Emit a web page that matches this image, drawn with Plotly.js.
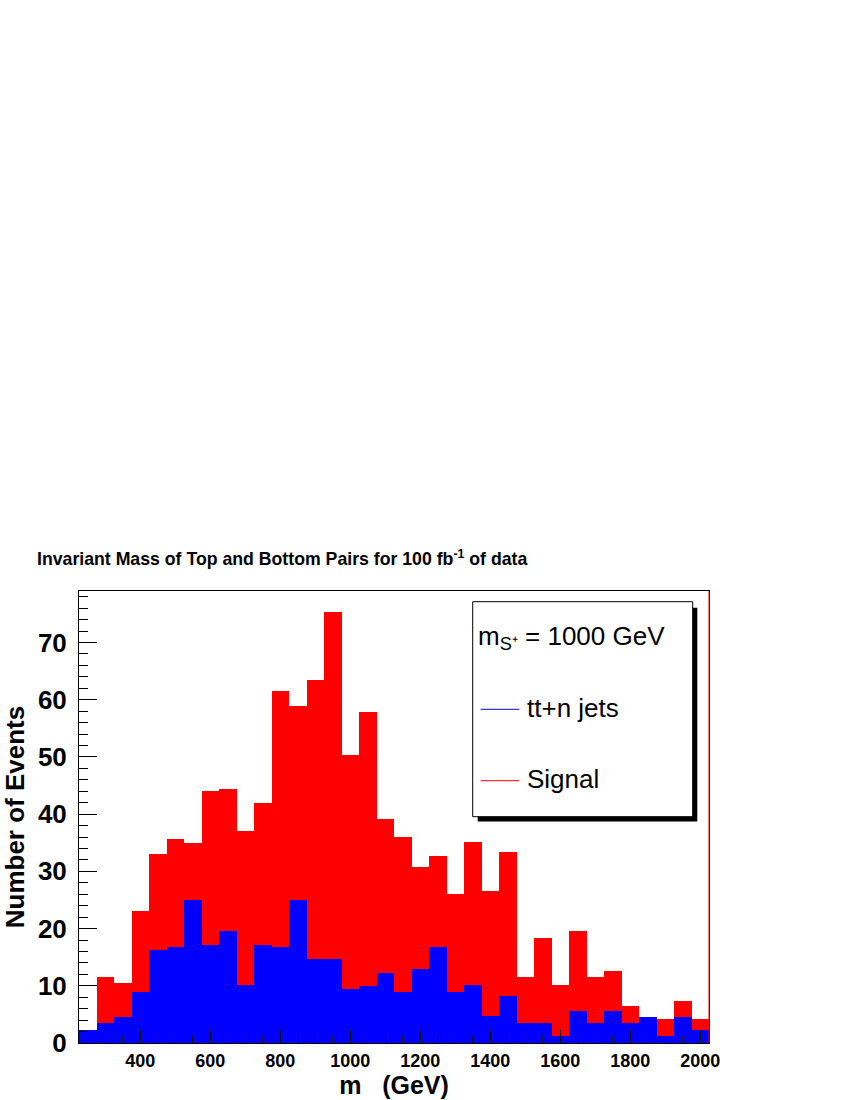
<!DOCTYPE html>
<html><head><meta charset="utf-8">
<script src="https://cdn.plot.ly/plotly-3.0.1.min.js"></script>
<style>html,body{margin:0;padding:0;background:#fff}</style>
</head><body>
<div id="chart" style="width:850px;height:1100px"></div>
<script>
// bin centres (GeV), 50 GeV wide bins from 225 to 2025
const binCenters = [250,300,350,400,450,500,550,600,650,700,750,800,850,900,950,1000,1050,1100,
                    1150,1200,1250,1300,1350,1400,1450,1500,1550,1600,1650,1700,1750,1800,1850,1900,1950,2000];
// Signal (red) histogram
const signalCounts = [2.3,11.5,10.5,23.0,33.1,35.7,34.9,44.1,44.4,37.1,41.9,61.6,58.9,63.4,75.4,50.4,57.8,39.2,
                      36.0,30.8,32.7,26.0,35.1,26.5,33.3,11.5,18.3,10.2,19.6,11.5,12.6,6.5,4.6,4.2,7.4,4.2];
// tt + n jets (blue) histogram
const ttjetsCounts = [2.3,3.5,4.5,9.0,16.2,16.8,25.0,17.2,19.5,10.2,17.1,16.7,25.0,14.6,14.7,9.5,9.9,12.2,
                      9.0,12.9,16.8,9.0,10.1,4.7,8.3,3.5,3.5,1.3,5.6,3.5,5.6,3.5,4.5,1.3,4.5,2.3];
const binWidth = 50;
const legendEntries = ["tt+n jets", "Signal"];
const legendHeader = "m<sub>S\u207A</sub> = 1000 GeV";

const FONT = "Liberation Sans, Arial, Helvetica, sans-serif";

const traces = [
  {type:'bar', x:binCenters, y:signalCounts, width:binWidth, name:legendEntries[1],
   marker:{color:'#ff0000', line:{width:0}}, showlegend:false, hoverinfo:'skip'},
  {type:'bar', x:binCenters, y:ttjetsCounts, width:binWidth, name:legendEntries[0],
   marker:{color:'#0000ff', line:{width:0}}, showlegend:false, hoverinfo:'skip'}
];

// legend geometry (paper coords)
const L = 79, R = 709, T = 591, B = 1043;
const px = v => (v - L) / (R - L);
const py = v => (B - v) / (B - T);

const layout = {
  width:850, height:1100,
  margin:{l:L, r:850-R, t:T, b:1100-B, pad:0},
  paper_bgcolor:'#ffffff', plot_bgcolor:'#ffffff',
  font:{family:FONT, color:'#000000'},
  barmode:'overlay', bargap:0,
  title:{text:'Invariant Mass of Top and Bottom Pairs for 100 fb<sup>-1</sup> of data',
         font:{family:FONT, size:17.7, weight:'bold', color:'#000'},
         xref:'container', yref:'container', x:37/850, xanchor:'left', y:1-559/1100, yanchor:'middle'},
  xaxis:{range:[225,2025], tick0:0, dtick:200, ticks:'inside', ticklen:13, tickwidth:1, tickcolor:'#000',
         showline:true, linecolor:'#000', linewidth:1, mirror:true, showgrid:false, zeroline:false,
         ticklabelstandoff:1,
         tickfont:{family:FONT, size:18, weight:'bold'},
         minor:{tick0:0, dtick:50, ticks:'inside', ticklen:7, tickcolor:'#000', showgrid:false},
         title:{text:'m\u00a0\u00a0\u00a0(GeV)', font:{family:FONT, size:25, weight:'bold'}, standoff:2}},
  yaxis:{range:[0,79.0], tick0:0, dtick:10, ticks:'inside', ticklen:18, tickwidth:1, tickcolor:'#000',
         showline:true, linecolor:'#000', linewidth:1, mirror:true, showgrid:false, zeroline:false,
         ticklabelstandoff:6,
         tickfont:{family:FONT, size:26, weight:'bold'},
         minor:{tick0:0, dtick:2, ticks:'inside', ticklen:9, tickcolor:'#000', showgrid:false},
         title:{text:'Number of Events', font:{family:FONT, size:26, weight:'bold'}, standoff:10}},
  shapes:[
    {type:'line', xref:'paper', yref:'paper', x0:1, x1:1, y0:0, y1:1, line:{color:'#ff0000', width:1}},
    {type:'rect', xref:'paper', yref:'paper', x0:px(477.7), x1:px(697.3), y0:py(821.5), y1:py(607.7),
     fillcolor:'#000', line:{width:0}},
    {type:'rect', xref:'paper', yref:'paper', x0:px(472.7), x1:px(692.7), y0:py(816.7), y1:py(601.7),
     fillcolor:'#fff', line:{color:'#000', width:1}},
    {type:'line', xref:'paper', yref:'paper', x0:px(480.7), x1:px(519.3), y0:py(709.3), y1:py(709.3),
     line:{color:'#0000ff', width:1}},
    {type:'line', xref:'paper', yref:'paper', x0:px(480.7), x1:px(519.3), y0:py(780.7), y1:py(780.7),
     line:{color:'#ff0000', width:1}}
  ],
  annotations:[
    {xref:'paper', yref:'paper', x:px(476), y:py(637), xanchor:'left', yanchor:'middle', showarrow:false,
     text:legendHeader, font:{family:FONT, size:26}},
    {xref:'paper', yref:'paper', x:px(525), y:py(708), xanchor:'left', yanchor:'middle', showarrow:false,
     text:legendEntries[0], font:{family:FONT, size:26}},
    {xref:'paper', yref:'paper', x:px(525), y:py(779), xanchor:'left', yanchor:'middle', showarrow:false,
     text:legendEntries[1], font:{family:FONT, size:26}}
  ]
};

Plotly.newPlot('chart', traces, layout, {displayModeBar:false, staticPlot:true});
</script>
</body></html>
